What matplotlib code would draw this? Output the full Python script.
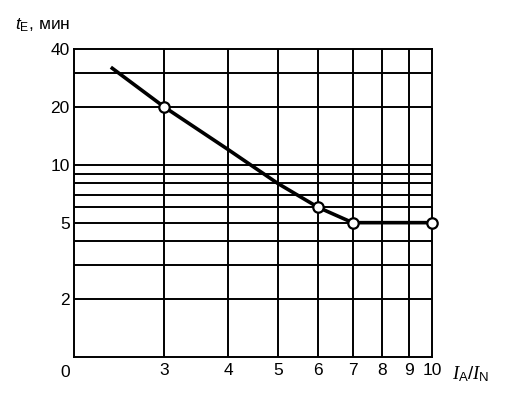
import matplotlib
matplotlib.use("Agg")
import matplotlib.pyplot as plt

plt.rcParams["font.family"] = ["Liberation Sans", "DejaVu Sans"]
plt.rcParams["mathtext.fontset"] = "custom"
plt.rcParams["mathtext.rm"] = "Liberation Sans"
plt.rcParams["mathtext.it"] = "Liberation Serif:italic"
plt.rcParams["mathtext.sf"] = "Liberation Sans:italic"

# curve (log-log)
curve_x = [2.36, 3, 4, 5, 6, 7, 10]
curve_y = [32.2, 20, 12, 8.0, 6.0, 5, 5]
mark_x = [3, 6, 7, 10]
mark_y = [20, 6, 5, 5]

x_grid = [3, 4, 5, 6, 7, 8, 9]
y_grid = [2, 3, 4, 5, 6, 7, 8, 9, 10, 20, 30]
x_ticks = [3, 4, 5, 6, 7, 8, 9, 10]
y_ticks = [2, 5, 10, 20, 40]

fig = plt.figure(figsize=(5.07, 3.96), dpi=100)
ax = fig.add_axes([0.146, 0.0985, 0.706, 0.7775])
ax.set_xscale("log")
ax.set_yscale("log")
ax.set_xlim(2, 10)
ax.set_ylim(1, 40)

for v in x_grid:
    ax.axvline(v, color="black", lw=1.4, zorder=1)
for v in y_grid:
    ax.axhline(v, color="black", lw=1.4, zorder=1)
for s in ax.spines.values():
    s.set_linewidth(1.4)

ax.plot(curve_x, curve_y, color="black", lw=2.6, zorder=3,
        solid_capstyle="butt", solid_joinstyle="round")
ax.plot(mark_x, mark_y, ls="none", marker="o", ms=7.5, mfc="white",
        mec="black", mew=1.6, zorder=4, clip_on=False)

ax.minorticks_off()
ax.set_xticks(x_ticks)
ax.set_xticklabels([str(v) for v in x_ticks])
ax.set_yticks(y_ticks)
ax.set_yticklabels([str(v) for v in y_ticks])
ax.tick_params(length=0, labelsize=12.5, pad=4)
ax.tick_params(axis="y", pad=3)

ax.text(-0.01, -0.025, "0", transform=ax.transAxes, ha="right", va="top",
        fontsize=12.5)
ax.text(1.055, -0.025, r"$I_{\mathrm{A}}/I_{\mathrm{N}}$",
        transform=ax.transAxes, ha="left", va="top", fontsize=13.5)
fig.text(15 / 507, 1 - 30 / 396, r"$\mathsf{t}_{\mathrm{E}}$, мин",
         ha="left", va="baseline", fontsize=12.5)

fig.savefig("out.png", dpi=100, facecolor="white")
